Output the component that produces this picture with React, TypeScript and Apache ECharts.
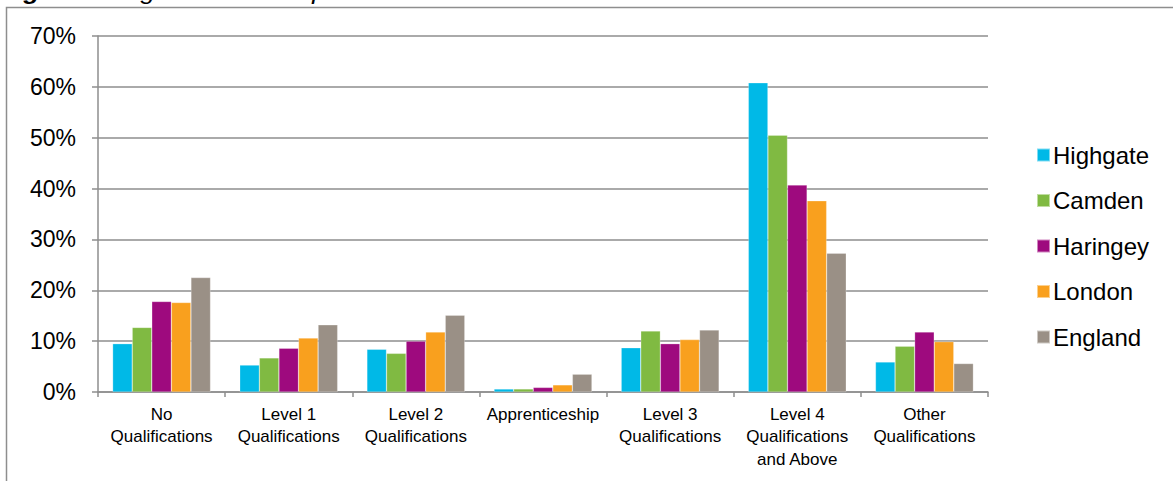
import React, { useEffect, useRef } from "react";
import * as echarts from "echarts";

const categories = [
  "No\nQualifications",
  "Level 1\nQualifications",
  "Level 2\nQualifications",
  "Apprenticeship",
  "Level 3\nQualifications",
  "Level 4\nQualifications\nand Above",
  "Other\nQualifications",
];

const highgate = [9.5, 5.3, 8.4, 0.6, 8.7, 60.8, 5.9];
const camden = [12.7, 6.7, 7.6, 0.6, 12.0, 50.5, 9.0];
const haringey = [17.8, 8.6, 10.0, 0.9, 9.5, 40.7, 11.8];
const london = [17.6, 10.6, 11.8, 1.4, 10.3, 37.6, 9.9];
const england = [22.5, 13.2, 15.1, 3.5, 12.2, 27.3, 5.6];

const seriesNames = ["Highgate", "Camden", "Haringey", "London", "England"];
const seriesColors = ["#00B9E7", "#80BA42", "#9E0A7E", "#F9A01E", "#9A9086"];
const seriesData = [highgate, camden, haringey, london, england];

const yTicks = { min: 0, max: 70, interval: 10 };

export default function App() {
  const ref = useRef<HTMLDivElement>(null);

  useEffect(() => {
    if (!ref.current) return;
    const chart = echarts.init(ref.current, null, { renderer: "svg" });
    const gridColor = "#8E8E8E";
    const font = "Liberation Sans, Arial, sans-serif";
    chart.setOption({
      animation: false,
      textStyle: { fontFamily: font },
      graphic: [
        {
          type: "polyline",
          shape: { points: [[6.5, 481], [6.5, 7.5], [1173, 7.5]] },
          style: { stroke: gridColor, lineWidth: 1.5, fill: "none" },
        },
        {
          type: "text",
          x: 0,
          y: -20,
          scaleX: 1.2,
          style: {
            text: "{b|Figure 2:} {i|Highest level of qualification}",
            rich: {
              b: { fontSize: 22, fontWeight: "bold", fontStyle: "italic", fill: "#000", fontFamily: font },
              i: { fontSize: 22, fontStyle: "italic", fill: "#000", fontFamily: font },
            },
          },
        },
      ],
      grid: { left: 98, right: 185, top: 36, bottom: 89, containLabel: false },
      legend: {
        orient: "vertical",
        left: 1031,
        top: 138,
        itemWidth: 13,
        itemHeight: 13,
        itemGap: 21.5,
        icon: "rect",
        textStyle: { fontSize: 24, color: "#000", fontFamily: font, padding: [0, 0, 0, -2] },
        data: seriesNames,
      },
      xAxis: {
        type: "category",
        data: categories,
        axisLine: { lineStyle: { color: gridColor, width: 1.5 } },
        axisTick: { show: true, interval: 0, length: 5, lineStyle: { color: gridColor, width: 1.5 } },
        axisLabel: {
          interval: 0,
          margin: 11,
          fontSize: 17,
          lineHeight: 22.5,
          color: "#000",
          fontFamily: font,
        },
      },
      yAxis: {
        type: "value",
        min: yTicks.min,
        max: yTicks.max,
        interval: yTicks.interval,
        axisLine: { show: true, lineStyle: { color: gridColor, width: 1.5 } },
        axisTick: { show: true, length: 6, lineStyle: { color: gridColor, width: 1.5 } },
        splitLine: { show: true, lineStyle: { color: gridColor, width: 1.5 } },
        axisLabel: {
          formatter: "{value}%",
          fontSize: 23,
          margin: 22,
          color: "#000",
          fontFamily: font,
        },
      },
      series: seriesNames.map((name, i) => ({
        name,
        type: "bar",
        data: seriesData[i],
        barGap: "0%",
        barCategoryGap: "23%",
        itemStyle: { color: seriesColors[i], borderColor: "rgba(255,255,255,0.5)", borderWidth: 0.5 },
      })),
    });
    return () => chart.dispose();
  }, []);

  return (
    <div
      ref={ref}
      style={{ position: "fixed", left: 0, top: 0, width: 1173, height: 481, background: "#fff" }}
    />
  );
}
